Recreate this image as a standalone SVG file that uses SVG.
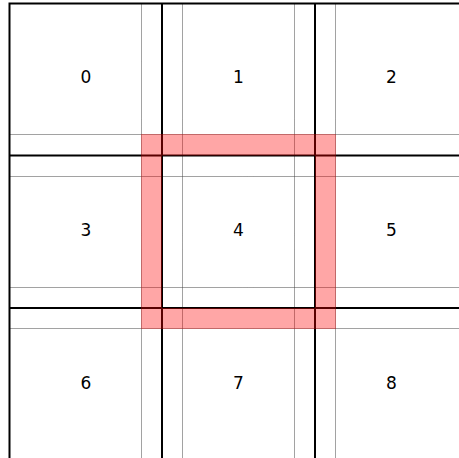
<svg xmlns="http://www.w3.org/2000/svg" width="459" height="458" viewBox="0 0 459 458">
<style>
.solid{stroke:#000;stroke-width:2;fill:none}
.dot{stroke:#444;stroke-width:1;stroke-dasharray:1,1;fill:none}
.lbl{font-family:"DejaVu Sans",sans-serif;font-size:17px;fill:#000;text-anchor:middle}
</style>
<rect x="0" y="0" width="459" height="458" fill="#fff"/>
<g id="guides">
<path class="dot" d="M141.5,3.5V458M182.5,3.5V458M294.5,3.5V458M335.5,3.5V458"/>
<path class="dot" d="M9.5,134.5H459M9.5,176.5H459M9.5,287.5H459M9.5,328.5H459"/>
</g>
<g id="grid">
<path class="solid" d="M9.5,458V3.5H459"/>
<path class="solid" d="M162,3.5V458M315,3.5V458"/>
<path class="solid" d="M9.5,155.5H459M9.5,308H459"/>
</g>
<g id="highlight">
<path d="M141,134H336V329H141Z M162,155.5V308H315V155.5Z" fill="#ff0000" fill-opacity="0.35" fill-rule="evenodd"/>
</g>
<g id="cell0"><text class="lbl" x="85.8" y="83">0</text></g>
<g id="cell1"><text class="lbl" x="238.5" y="83">1</text></g>
<g id="cell2"><text class="lbl" x="391.3" y="83">2</text></g>
<g id="cell3"><text class="lbl" x="85.8" y="236">3</text></g>
<g id="cell4"><text class="lbl" x="238.5" y="236">4</text></g>
<g id="cell5"><text class="lbl" x="391.3" y="236">5</text></g>
<g id="cell6"><text class="lbl" x="85.8" y="389">6</text></g>
<g id="cell7"><text class="lbl" x="238.5" y="389">7</text></g>
<g id="cell8"><text class="lbl" x="391.3" y="389">8</text></g>
</svg>
